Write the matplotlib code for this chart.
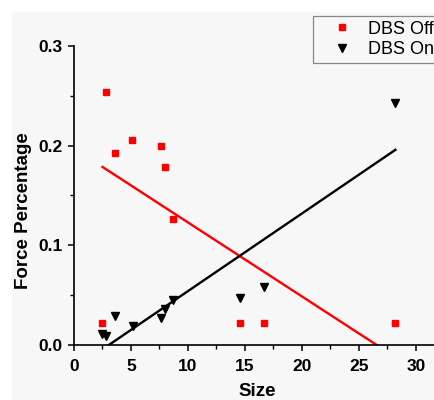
import numpy as np
import matplotlib
matplotlib.use("Agg")
import matplotlib.pyplot as plt
from matplotlib.patches import Rectangle
from matplotlib.ticker import MultipleLocator

plt.rcParams['font.family'] = ['Liberation Sans', 'DejaVu Sans']

# measured lesion size vs. force share, stimulation off / on
size_off = [2.5, 2.8, 3.6, 5.1, 7.6, 8.0, 8.7, 14.6, 16.7, 28.2]
force_off = [0.022, 0.254, 0.193, 0.206, 0.200, 0.179, 0.126, 0.022, 0.022, 0.022]
size_on = [2.5, 2.8, 3.6, 5.2, 7.6, 8.0, 8.7, 14.6, 16.7, 28.2]
force_on = [0.011, 0.009, 0.029, 0.019, 0.027, 0.036, 0.045, 0.0475, 0.058, 0.243]

fig = plt.figure(figsize=(4.35, 4.0), dpi=100, facecolor='white')
fig.patches.append(Rectangle((12 / 435, 0), 1, 1 - 12 / 400, transform=fig.transFigure,
                             facecolor='#f7f7f7', edgecolor='none', zorder=-10))

ax = fig.add_axes([74 / 435, 55 / 400, 367 / 435, 299 / 400])
ax.patch.set_alpha(0)

ax.plot(size_off, force_off, 's', color='red', markersize=4.5, label='DBS Off', zorder=3)
ax.plot(size_on, force_on, 'v', color='black', markersize=6, label='DBS On', zorder=3)

# least-squares trend lines
for xs, ys, c in [(size_off, force_off, 'red'), (size_on, force_on, 'black')]:
    k, b = np.polyfit(xs, ys, 1)
    xx = np.array([min(xs), max(xs)])
    ax.plot(xx, k * xx + b, color=c, lw=1.7)

ax.set_xlim(0, 32.2)
ax.set_ylim(0, 0.3)
ax.xaxis.set_major_locator(MultipleLocator(5))
ax.xaxis.set_minor_locator(MultipleLocator(2.5))
ax.yaxis.set_major_locator(MultipleLocator(0.1))
ax.yaxis.set_minor_locator(MultipleLocator(0.05))
ax.yaxis.set_major_formatter(matplotlib.ticker.FormatStrFormatter('%.1f'))

for s in ['top', 'right']:
    ax.spines[s].set_visible(False)
for s in ['left', 'bottom']:
    ax.spines[s].set_linewidth(1.2)

ax.tick_params(which='major', direction='out', length=4, width=1.1, labelsize=12.5, pad=4)
ax.tick_params(which='minor', direction='out', length=3, width=1.0)
for lab in ax.get_xticklabels() + ax.get_yticklabels():
    lab.set_fontweight('bold')
ax.tick_params(axis='x', pad=6)

ax.set_xlabel('Size', fontsize=13.5, fontweight='bold')
ax.set_ylabel('Force Percentage', fontsize=13.5, fontweight='bold')
ax.xaxis.set_label_coords(0.498, -0.128)
ax.xaxis.label.set_va('top')
ax.yaxis.set_label_coords(-0.1144, 0.448)

leg = ax.legend(loc='upper left', bbox_to_anchor=(312.7 / 435, 1 - 16 / 400),
                bbox_transform=fig.transFigure, fontsize=13, numpoints=1,
                borderaxespad=0, borderpad=0.25, handlelength=2.7, handletextpad=0.12,
                labelspacing=0.2, fancybox=False, framealpha=1)
leg.get_frame().set_edgecolor('#888888')
leg.get_frame().set_linewidth(0.9)
leg.get_frame().set_facecolor('#f7f7f7')

fig.savefig('out.png', dpi=100, facecolor='white')
